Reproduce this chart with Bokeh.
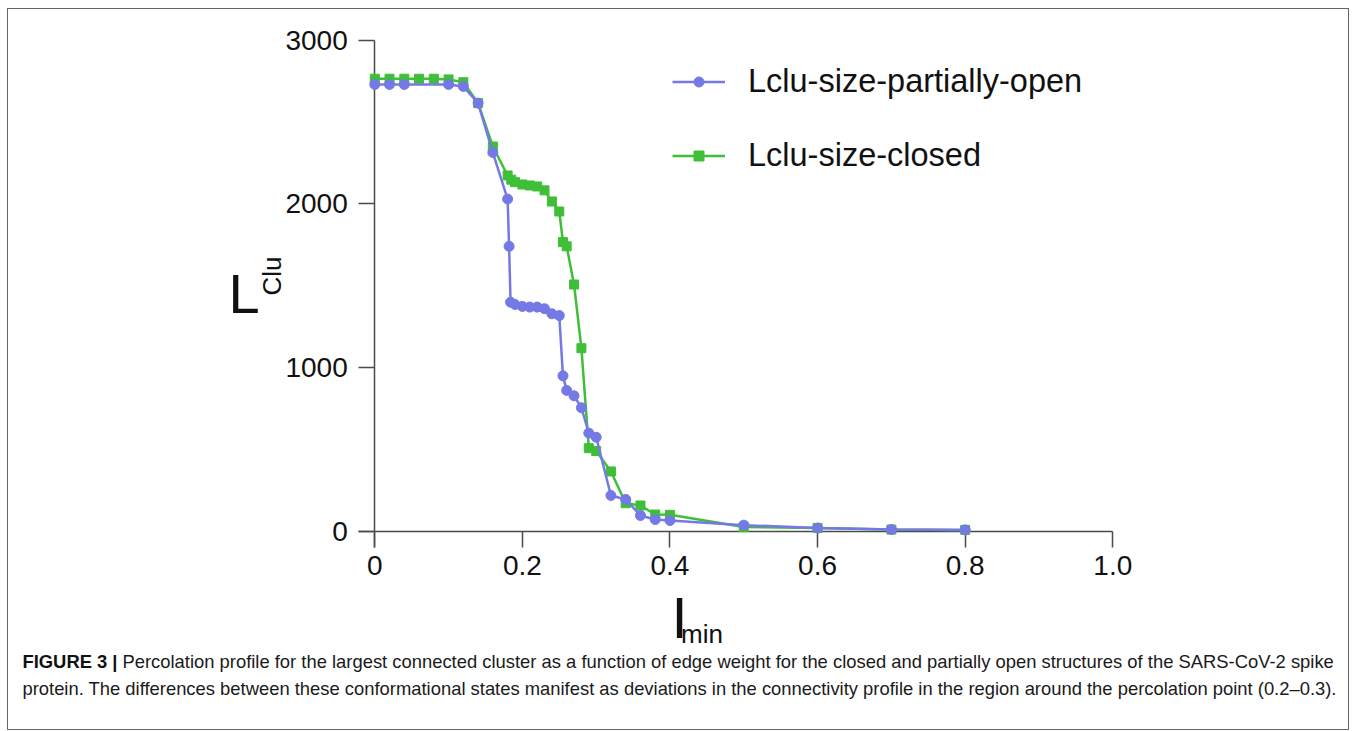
import math
from bokeh.plotting import figure
from bokeh.models import Label, Legend, LegendItem, FixedTicker, Range1d
from bokeh.layouts import column
from bokeh.embed import file_html
from bokeh.resources import INLINE

# ---- data ----
open_x = [0, 0.02, 0.04, 0.10, 0.12, 0.14, 0.16, 0.18, 0.182, 0.184, 0.19, 0.20, 0.21,
          0.22, 0.23, 0.24, 0.25, 0.255, 0.26, 0.27, 0.28, 0.29, 0.30, 0.32, 0.34,
          0.36, 0.38, 0.40, 0.50, 0.60, 0.70, 0.80]
open_y = [2729, 2729, 2729, 2729, 2717, 2615, 2313, 2029, 1740, 1399, 1385, 1373, 1369,
          1369, 1359, 1328, 1317, 949, 860, 827, 754, 599, 574, 218, 194,
          96, 71, 65, 37, 19, 10, 8]

closed_x = [0, 0.02, 0.04, 0.06, 0.08, 0.10, 0.12, 0.14, 0.16, 0.18, 0.185, 0.19, 0.20,
            0.21, 0.22, 0.23, 0.24, 0.25, 0.255, 0.26, 0.27, 0.28, 0.29, 0.30, 0.32,
            0.34, 0.36, 0.38, 0.40, 0.50, 0.60, 0.70, 0.80]
closed_y = [2764, 2764, 2764, 2764, 2764, 2760, 2743, 2615, 2350, 2173, 2147, 2132, 2118,
            2112, 2106, 2082, 2014, 1953, 1766, 1740, 1507, 1118, 507, 490, 365,
            171, 157, 102, 100, 25, 20, 10, 8]

series_names = ["Lclu-size-partially-open", "Lclu-size-closed"]
x_ticks = [0, 0.2, 0.4, 0.6, 0.8, 1.0]
x_tick_labels = ["0", "0.2", "0.4", "0.6", "0.8", "1.0"]
y_ticks = [0, 1000, 2000, 3000]
y_tick_labels = ["0", "1000", "2000", "3000"]

caption_bold = "FIGURE 3 |"
caption_line1 = ("Percolation profile for the largest connected cluster as a function of edge weight "
                 "for the closed and partially open structures of the SARS-CoV-2 spike")
caption_line2 = ("protein. The differences between these conformational states manifest as deviations "
                 "in the connectivity profile in the region around the percolation point (0.2\u20130.3).")

FONT = "Liberation Sans"
BLUE = "#7479E6"
GREEN = "#3FBF38"
AXIS = "#4a4a4a"
TEXT = "#111111"

# frame fills the whole canvas; axes are pinned at x=0 / y=0
p = figure(width=1340, height=720,
           x_range=Range1d(-0.4963, 1.3194), y_range=Range1d(-1211.4, 3186.9),
           output_backend="svg", toolbar_location=None,
           min_border_left=0, min_border_right=0, min_border_top=0, min_border_bottom=0)

p.outline_line_color = None
p.xgrid.visible = False
p.ygrid.visible = False
p.background_fill_color = "white"
p.border_fill_color = "white"

p.xaxis.ticker = FixedTicker(ticks=x_ticks)
p.xaxis.major_label_overrides = {t: s for t, s in zip(x_ticks, x_tick_labels)}
p.yaxis.ticker = FixedTicker(ticks=y_ticks)
p.yaxis.major_label_overrides = {t: s for t, s in zip(y_ticks, y_tick_labels)}

p.xaxis.fixed_location = 0
p.yaxis.fixed_location = 0
p.xaxis.bounds = (-0.022, 1.0)
p.yaxis.bounds = (-100, 3000)

for ax in (p.xaxis[0], p.yaxis[0]):
    ax.level = "underlay"
    ax.axis_line_color = AXIS
    ax.axis_line_width = 1.5
    ax.major_tick_in = 0
    ax.major_tick_out = 16
    ax.minor_tick_line_color = None
    ax.major_tick_line_color = AXIS
    ax.major_tick_line_width = 1.5
    ax.major_label_text_font = FONT
    ax.major_label_text_font_size = "28px"
    ax.major_label_text_color = TEXT
p.xaxis.major_label_standoff = 9
p.yaxis.major_label_standoff = 11

gl = p.line(closed_x, closed_y, line_color=GREEN, line_width=2.5)
gs = p.scatter(closed_x, closed_y, marker="square", size=9, fill_color=GREEN, line_color=GREEN)
bl = p.line(open_x, open_y, line_color=BLUE, line_width=2.5)
bs = p.scatter(open_x, open_y, marker="circle", size=10, fill_color=BLUE, line_color=BLUE)

legend = Legend(items=[LegendItem(label=series_names[0], renderers=[bl, bs]),
                       LegendItem(label=series_names[1], renderers=[gl, gs])],
                location=(664, 555.5), padding=0, margin=0, spacing=37,
                glyph_width=53, glyph_height=25, label_height=37, label_standoff=23,
                label_text_font=FONT, label_text_font_size="32.5px", label_text_color=TEXT,
                border_line_color=None, background_fill_alpha=0)
p.add_layout(legend)

# axis titles: big letter + subscript
p.add_layout(Label(x=-0.1982, y=1452, text="L", text_font=FONT, text_font_size="56px",
                   text_baseline="alphabetic", text_align="left", text_color=TEXT))
p.add_layout(Label(x=-0.1386, y=1440, text="Clu", angle=math.pi / 2, text_font=FONT,
                   text_font_size="26px", text_baseline="alphabetic", text_align="left",
                   text_color=TEXT))
p.add_layout(Label(x=0.4020, y=-530, text="I", text_font=FONT, text_font_size="58px",
                   text_baseline="alphabetic", text_align="left", text_color=TEXT))
p.add_layout(Label(x=0.4150, y=-626, text="min", text_font=FONT, text_font_size="26px",
                   text_baseline="alphabetic", text_align="left", text_color=TEXT))

# caption (two lines, bold lead-in)
p.add_layout(Label(x=-0.4774, y=-796, text=caption_bold, text_font=FONT, text_font_size="18.4px",
                   text_font_style="bold", text_baseline="middle", text_align="left",
                   text_color=TEXT))
p.add_layout(Label(x=-0.3419, y=-796, text=caption_line1, text_font=FONT, text_font_size="18.4px",
                   text_baseline="middle", text_align="left", text_color="#1a1a1a"))
p.add_layout(Label(x=-0.4774, y=-961, text=caption_line2, text_font=FONT, text_font_size="18.4px",
                   text_baseline="middle", text_align="left", text_color="#1a1a1a"))

layout = column(p, styles={"border": "1px solid #666666",
                           "margin-left": "7px", "margin-top": "8px"})

open("out.html", "w").write(file_html(layout, INLINE))
